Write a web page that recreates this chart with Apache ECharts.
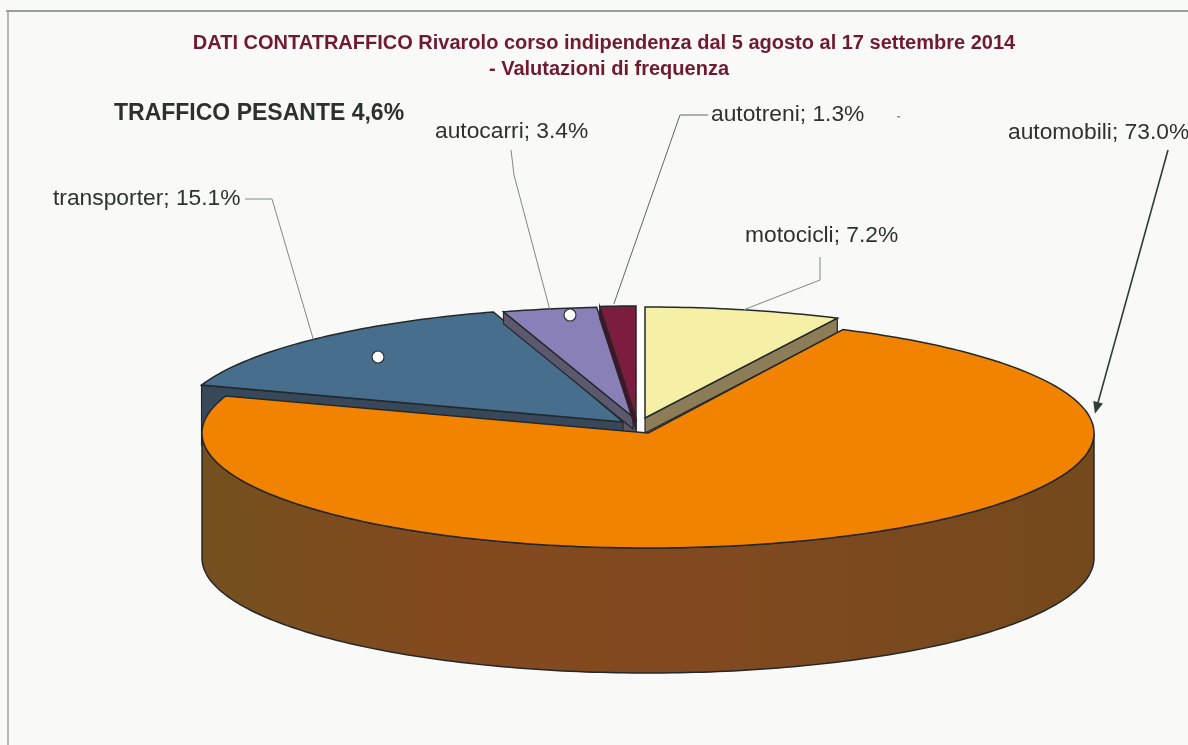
<!DOCTYPE html>
<html>
<head>
<meta charset="utf-8">
<style>html,body{margin:0;padding:0;background:#f9f9f8}#c{width:1188px;height:745px}</style>
<script src="https://cdn.jsdelivr.net/npm/echarts@6/dist/echarts.min.js"></script>
</head>
<body>
<div id="c"></div>
<script>
// --- data (clockwise from 12 o'clock) ---
const categories = ['motocicli', 'automobili', 'transporter', 'autocarri', 'autotreni'];
const shares = [7.2, 73.0, 15.1, 3.4, 1.3];
const titleLine1 = 'DATI CONTATRAFFICO Rivarolo corso indipendenza dal 5 agosto al 17 settembre 2014';
const titleLine2 = '- Valutazioni di frequenza';
const note = 'TRAFFICO PESANTE 4,6%';

// --- styles and layout, separate from the data ---
const topColors = ['#f6efa6', '#f18300', '#476e8c', '#8a80b8', '#7c1c3e'];
const sideColors = ['#8c7d58', '#7f4c20', '#37485a', '#5c586e', '#4c1026'];
const centres = [[645, 418], [648, 433], [623, 422], [633, 417], [636, 418]];
const radii = [[440, 111], [446, 115], [445, 115], [445, 110], [445, 112]];
const cutDepth = [15, 125, 60, 12, 12];
const cutEdge = [1, null, 0, 0, 0];          // which straight edge shows its cut face
const drawOrder = [4, 5, 1, 2, 3];
const labelPos = [[745, 236], [1008, 133], [53, 199], [435, 132], [711, 115]];
const elbows = [[[820, 257], [820, 280]], [[1168, 150]], [[245, 199], [272, 199]], [[511, 150], [514, 175]], [[708, 115], [680, 115]]];
const leaderAngle = [null, 80, null, null, null];
const leaderNudge = [[0, 0], [9, -4], [0, 0], [0, 0], [-4, -2]];
const leaderColor = ['#7f8a80', '#2f3f38', '#7f8a80', '#7f8a80', '#5f6a60'];
const OUTLINE = '#23282a';
const TEXT = '#2b332e';
const FONT = '"Liberation Sans", Arial, sans-serif';

const total = shares.reduce((a, b) => a + b, 0);
const rad = d => d * Math.PI / 180;

function pt(i, deg, drop) {
  return [centres[i][0] + radii[i][0] * Math.sin(rad(deg)),
          centres[i][1] - radii[i][1] * Math.cos(rad(deg)) + (drop || 0)];
}
function arc(i, from, to, drop) {
  const n = Math.max(2, Math.ceil(Math.abs(to - from)));
  const out = [];
  for (let k = 0; k <= n; k++) out.push(pt(i, from + (to - from) * k / n, drop));
  return out;
}

function renderSlice(params, api) {
  const i = params.dataIndex;
  const value = api.value(0);
  let before = 0;
  for (let k = 0; k < i; k++) before += shares[k];
  const a0 = before / total * 360;
  const a1 = a0 + value / total * 360;
  const apex = centres[i];
  const d = cutDepth[i];
  const children = [];
  const z = drawOrder[i] * 10;

  // visible cut face along one straight edge of the wedge
  if (cutEdge[i] !== null) {
    const p = pt(i, cutEdge[i] === 0 ? a0 : a1);
    children.push({
      type: 'polygon', z2: z,
      shape: { points: [apex, p, [p[0], p[1] + d], [apex[0], apex[1] + d]] },
      style: { fill: sideColors[i], stroke: OUTLINE, lineWidth: 1.2 }
    });
  }

  // outer rim, only on the front half of the wedge
  const rimFrom = Math.max(a0, 90), rimTo = Math.min(a1, 270);
  if (rimTo > rimFrom) {
    children.push({
      type: 'polygon', z2: z + 1,
      shape: { points: arc(i, rimFrom, rimTo, 0).concat(arc(i, rimTo, rimFrom, d)) },
      style: {
        fill: new echarts.graphic.LinearGradient(0, 0, 1, 0, [
          { offset: 0, color: '#75501f' }, { offset: 0.3, color: '#84491f' },
          { offset: 0.6, color: '#80491f' }, { offset: 1, color: '#74491c' }]),
        stroke: OUTLINE, lineWidth: 1.5
      }
    });
  }

  // top face
  children.push({
    type: 'polygon', z2: z + 2,
    shape: { points: [apex].concat(arc(i, a0, a1, 0)) },
    style: { fill: topColors[i], stroke: OUTLINE, lineWidth: 1.5 }
  });

  // leader
  const base = pt(i, leaderAngle[i] === null ? (a0 + a1) / 2 : leaderAngle[i]);
  const end = [base[0] + leaderNudge[i][0], base[1] + leaderNudge[i][1]];
  const path = elbows[i].concat([end]);
  const heavy = leaderAngle[i] !== null;
  children.push({
    type: 'polyline', z2: 100,
    shape: { points: path },
    style: { fill: null, stroke: leaderColor[i], lineWidth: heavy ? 1.6 : 1 }
  });
  if (heavy) {
    const from = path[path.length - 2];
    const ang = Math.atan2(end[1] - from[1], end[0] - from[0]);
    const tip = [end[0] + 5 * Math.cos(ang), end[1] + 5 * Math.sin(ang)];
    const back = [tip[0] - 12 * Math.cos(ang), tip[1] - 12 * Math.sin(ang)];
    const nx = -Math.sin(ang) * 5, ny = Math.cos(ang) * 5;
    children.push({
      type: 'polygon', z2: 101,
      shape: { points: [tip, [back[0] + nx, back[1] + ny], [back[0] - nx, back[1] - ny]] },
      style: { fill: leaderColor[i] }
    });
  }

  // label
  children.push({
    type: 'text', z2: 110,
    x: labelPos[i][0], y: labelPos[i][1],
    style: {
      text: categories[i] + '; ' + value.toFixed(1) + '%',
      font: '22.8px ' + FONT, fill: TEXT, verticalAlign: 'middle', align: 'left'
    }
  });
  return { type: 'group', children };
}

const chart = echarts.init(document.getElementById('c'), null, { renderer: 'canvas' });
chart.setOption({
  animation: false,
  backgroundColor: '#f9f9f8',
  title: [
    { text: titleLine1, left: 599, top: 28, textAlign: 'center',
      textStyle: { color: '#701a30', fontFamily: FONT, fontWeight: 'bold', fontSize: 20 } },
    { text: titleLine2, left: 604, top: 54, textAlign: 'center',
      textStyle: { color: '#701a30', fontFamily: FONT, fontWeight: 'bold', fontSize: 20 } },
    { text: note, left: 109, top: 97,
      textStyle: { color: '#2b322e', fontFamily: FONT, fontWeight: 'bold', fontSize: 23 } }
  ],
  graphic: [
    { type: 'line', shape: { x1: 6, y1: 11, x2: 1188, y2: 11 }, style: { stroke: '#77807a', lineWidth: 1.5 }, z: 1 },
    { type: 'line', shape: { x1: 8, y1: 11, x2: 8, y2: 745 }, style: { stroke: '#9aa09a', lineWidth: 1.5 }, z: 1 },
    { type: 'rect', shape: { x: 638, y: 305, width: 7, height: 128 }, style: { fill: '#ffffff' }, z: 1 },
    { type: 'rect', shape: { x: 620, y: 418, width: 17, height: 15 }, style: { fill: '#5c586e' }, z: 1 },
    { type: 'circle', shape: { cx: 378, cy: 357, r: 6 }, style: { fill: '#ffffff', stroke: '#2e3438', lineWidth: 1.2 }, z: 20 },
    { type: 'circle', shape: { cx: 570, cy: 315, r: 6 }, style: { fill: '#ffffff', stroke: '#2e3438', lineWidth: 1.2 }, z: 20 },
    { type: 'rect', shape: { x: 897, y: 116, width: 3, height: 1.5 }, style: { fill: '#8a8f8a' }, z: 1 }
  ],
  series: [{
    type: 'custom',
    coordinateSystem: 'none',
    renderItem: renderSlice,
    data: shares.map(v => [v]),
    silent: true,
    z: 5
  }]
});
</script>
</body>
</html>
